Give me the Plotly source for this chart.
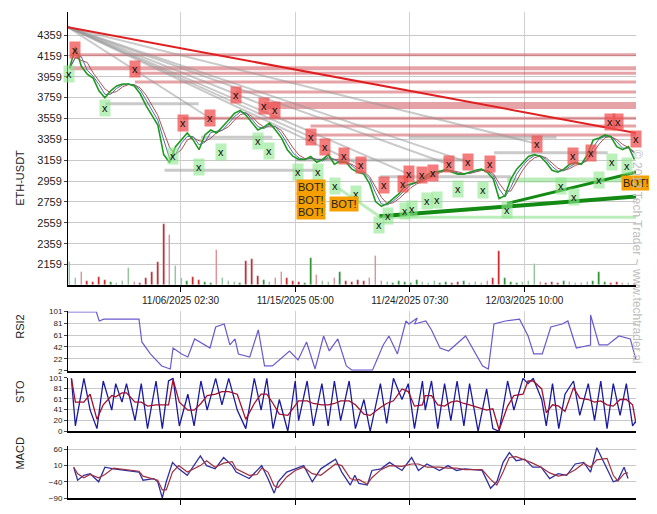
import plotly.graph_objects as go
import pandas as pd

START = pd.Timestamp("2025-10-28 03:50")
END = pd.Timestamp("2025-12-12 06:40")

price = [4040, 4246, 4059, 3983, 3946, 3824, 3758, 3824, 3871, 3890, 3890, 3871, 3796, 3683, 3589, 3495,
         3213, 3138, 3289, 3354, 3420, 3354, 3260, 3401, 3448, 3420, 3476, 3542, 3608, 3636, 3589, 3514,
         3448, 3476, 3514, 3448, 3373, 3260, 3195, 3166, 3166, 3195, 3138, 3166, 3213, 3120, 3148, 3138,
         3073, 3044, 3026, 2932, 2763, 2716, 2744, 2791, 2838, 2913, 2932, 2951, 2979, 3026, 3044, 3054,
         3073, 3044, 3026, 3026, 3044, 3063, 3073, 3044, 2979, 2791, 2819, 2979, 3073, 3138, 3195, 3213,
         3195, 3138, 3063, 3044, 3073, 3120, 3138, 3120, 3213, 3354, 3373, 3401, 3382, 3289, 3260, 3289, 3166]
volume = [220, 60, 120, 40, 30, 70, 50, 30, 20, 40, 160, 30, 20, 60, 120, 220, 580, 480, 180, 60, 40,
          70, 50, 30, 20, 330, 60, 40, 30, 20, 230, 250, 80, 50, 30, 60, 120, 60, 40, 30, 20, 260, 90,
          40, 30, 60, 120, 40, 30, 50, 40, 60, 280, 40, 30, 20, 40, 30, 20, 50, 30, 20, 40, 20, 30, 20,
          30, 40, 20, 30, 20, 40, 60, 320, 60, 30, 20, 30, 40, 200, 30, 20, 30, 20, 40, 30, 20, 20, 30,
          40, 120, 30, 20, 30, 20, 20, 20]

yticks_main = [2159, 2359, 2559, 2759, 2959, 3159, 3359, 3559, 3759, 3959, 4159, 4359]
date_ticks = ["2025-11-06 02:30", "2025-11-15 05:00", "2025-11-24 07:30", "2025-12-03 10:00"]
date_labels = ["11/06/2025 02:30", "11/15/2025 05:00", "11/24/2025 07:30", "12/03/2025 10:00"]

sell_pos = [.0125, .118, .202, .25, .295, .345, .364, .427, .452, .486, .516, .557, .589, .6, .623, .643,
            .67, .705, .743, .825, .889, .921, .955, .968, 1.0]
sell_price = [4218, 4030, 3514, 3561, 3786, 3683, 3645, 3382, 3288, 3195, 3110, 2922, 2932, 3026, 3016,
              3035, 3120, 3138, 3120, 3317, 3204, 3232, 3523, 3523, 3364]
buy_pos = [.002, .066, .184, .23, .27, .334, .354, .405, .441, .47, .507, .548, .564, .593, .605, .632,
           .65, .686, .73, .773, .868, .891, .934, .957, .984]
buy_price = [3983, 3655, 3204, 3091, 3242, 3345, 3251, 3044, 3044, 2913, 2838, 2537, 2622, 2669, 2688,
             2772, 2781, 2885, 2876, 2678, 2913, 2810, 2969, 3138, 3101]
bot_pos = [.427, .427, .427, .486, 1.0]
bot_price = [2904, 2782, 2660, 2735, 2941]

res_levels = [4171, 4040, 3993, 3908, 3814, 3683, 3561, 3486, 3401]
res_start = [.004, .004, .118, .118, .295, .345, .202, .427, .427]
res_width = [3, 4, 3, 3, 3, 7, 3, 3, 3]

fan_end_pos = [.25, .364, .427, .516, .67, .825, .705, .6]
fan_end_price = [3561, 3645, 3382, 3110, 3120, 3317, 3138, 3026]
fan_origin_price = 4434

trend_price = [4434, 3420]

rsi_pos = [0, .05, .055, .063, .125, .13, .145, .165, .18, .185, .2, .211, .223, .232, .25, .26, .275,
           .285, .294, .3, .32, .335, .346, .354, .36, .39, .405, .42, .435, .45, .46, .475, .49, .5,
           .536, .555, .565, .58, .595, .6, .615, .61, .63, .64, .655, .67, .7, .73, .74, .75, .77,
           .795, .81, .82, .835, .85, .87, .88, .895, .92, .92, .935, .95, .97, .99, 1.0]
rsi_val = [100, 100, 85, 88, 88, 50, 30, 10, 5, 40, 30, 25, 55, 50, 40, 75, 80, 45, 55, 30, 25, 70, 10,
           10, 10, 35, 20, 50, 5, 60, 35, 55, 10, 3, 3, 45, 60, 30, 85, 80, 90, 80, 85, 70, 40, 35, 60,
           10, 5, 80, 85, 88, 60, 30, 30, 75, 80, 85, 40, 45, 95, 45, 45, 60, 55, 20]

sto_pos = [0.006, .013, .028, .039, .051, .062, .077, .084, .095, .103, .118, .129, .14, .155, .166,
           .177, .185, .196, .211, .222, .234, .245, .26, .271, .283, .298, .313, .328, .34, .35, .361,
           .372, .387, .4, .406, .421, .432, .447, .458, .469, .48, .495, .506, .521, .532, .55, .561,
           .573, .588, .599, .61, .624, .629, .64, .651, .663, .674, .685, .697, .707, .722, .737, .748,
           .759, .774, .785, .801, .81, .819, .834, .842, .853, .864, .875, .89, .901, .916, .927, .938,
           .949, .96, .972, .983, .994, 1.0]
sto_val = [100, 10, 100, 40, 5, 95, 40, 90, 55, 90, 20, 90, 5, 95, 5, 95, 100, 10, 70, 10, 95, 40, 100,
           50, 100, 40, 5, 100, 40, 100, 5, 60, 0, 95, 20, 95, 10, 90, 10, 95, 20, 95, 5, 60, 0, 90, 15,
           100, 60, 90, 5, 95, 40, 95, 5, 90, 20, 95, 10, 90, 0, 80, 5, 0, 95, 40, 100, 90, 100, 60, 10,
           90, 5, 70, 95, 30, 90, 20, 95, 5, 90, 30, 90, 10, 20]

macd_pos = [.01, .017, .028, .039, .054, .065, .08, .103, .125, .132, .151, .158, .166, .173, .184, .195,
            .21, .233, .244, .259, .274, .289, .296, .319, .333, .341, .352, .363, .37, .385, .4, .415,
            .43, .445, .471, .482, .497, .505, .512, .527, .535, .551, .566, .588, .605, .617, .632, .654,
            .669, .684, .699, .729, .744, .755, .766, .777, .789, .804, .818, .833, .848, .863, .878, .893,
            .908, .92, .931, .949, .96, .968, .979, .986]
macd_val = [5, -35, -20, -15, -40, 5, 0, -5, -10, -35, -30, -40, -90, -40, 20, 0, -20, 40, 10, 0, 35, 10,
            -10, -30, -5, 10, -30, -75, -40, -10, 0, 10, -40, 0, 30, -10, -50, -20, -45, -50, -5, 0, 20,
            -5, 35, -5, 15, -5, 10, -5, 0, -5, -60, -40, 20, 50, 25, 30, 5, 5, -30, -15, -20, 15, 20, -10,
            65, 0, -40, -35, 5, -30]

span = END - START
def at(f):
    return START + f * span

t = pd.date_range(START + pd.Timedelta(hours=3), END - pd.Timedelta(hours=3), periods=len(price))
ps = pd.Series(price)
ma_fast = ps.rolling(2, min_periods=1).mean()
ma_slow = ps.rolling(3, min_periods=1).mean()

fig = go.Figure()
BASE = 1965
vcol = ["#1a8a1a" if i == 0 or price[i] >= price[i - 1] else "#cc1111" for i in range(len(price))]
fig.add_trace(go.Bar(x=t, y=volume, base=BASE, marker_color=vcol, width=3.6e6 * 3, xaxis="x", yaxis="y"))

for lv, st, w in zip(res_levels, res_start, res_width):
    fig.add_trace(go.Scatter(x=[at(st), END], y=[lv, lv], mode="lines",
                             line=dict(color="rgba(200,50,60,0.45)", width=w)))
for fp, pr in zip(fan_end_pos, fan_end_price):
    fig.add_trace(go.Scatter(x=[START, at(fp)], y=[fan_origin_price, pr], mode="lines",
                             line=dict(color="rgba(150,150,150,0.5)", width=2)))
for a, b, lv in [(.17, .44, 3063), (.066, .23, 3700), (.234, .36, 3380), (.4, .7, 3160), (.55, .78, 3000),
                 (.6, .86, 3380), (.75, .95, 3230)]:
    fig.add_trace(go.Scatter(x=[at(a), at(b)], y=[lv, lv], mode="lines",
                             line=dict(color="rgba(150,150,150,0.5)", width=3)))
for a, pa, b, pb, c, w in [(.548, 2613, 1.0, 2613, "rgba(120,220,120,0.5)", 3),
                           (.773, 2969, 1.0, 2969, "rgba(120,220,120,0.5)", 5),
                           (.548, 2622, 1.0, 2810, "#138a13", 4),
                           (.773, 2744, 1.0, 3044, "#138a13", 3),
                           (.47, 2913, .548, 2622, "rgba(120,220,120,0.5)", 3)]:
    fig.add_trace(go.Scatter(x=[at(a), at(b)], y=[pa, pb], mode="lines", line=dict(color=c, width=w)))
fig.add_trace(go.Scatter(x=[START, END], y=trend_price, mode="lines", line=dict(color="#e02020", width=2)))
fig.add_trace(go.Scatter(x=t, y=ma_slow, mode="lines", line=dict(color="#b05050", width=1)))
fig.add_trace(go.Scatter(x=t, y=ma_fast, mode="lines", line=dict(color="#5070b0", width=1)))
fig.add_trace(go.Scatter(x=t, y=price, mode="lines", line=dict(color="#1f9a1f", width=1.6)))

rx = [at(f) for f in rsi_pos]
fig.add_trace(go.Scatter(x=rx, y=rsi_val, mode="lines", line=dict(color="#6a5acd", width=1.2),
                         xaxis="x2", yaxis="y2"))
sx = [at(f) for f in sto_pos]
fig.add_trace(go.Scatter(x=sx, y=sto_val, mode="lines", line=dict(color="#1a1aa0", width=1.3),
                         xaxis="x3", yaxis="y3"))
fig.add_trace(go.Scatter(x=sx, y=pd.Series(sto_val).rolling(2, min_periods=1).mean(), mode="lines",
                         line=dict(color="#a01030", width=1.3), xaxis="x3", yaxis="y3"))
mx = [at(f) for f in macd_pos]
fig.add_trace(go.Scatter(x=mx, y=macd_val, mode="lines", line=dict(color="#3030a0", width=1.3),
                         xaxis="x4", yaxis="y4"))
fig.add_trace(go.Scatter(x=mx, y=pd.Series(macd_val).rolling(2, min_periods=1).mean(), mode="lines",
                         line=dict(color="#a03040", width=1.2), xaxis="x4", yaxis="y4"))

ann = []
for f, p in zip(buy_pos, buy_price):
    ann.append(dict(x=at(f), y=p, text="x", showarrow=False, bgcolor="rgba(140,230,140,0.6)",
                    font=dict(size=11, color="#111"), borderpad=2))
for f, p in zip(sell_pos, sell_price):
    ann.append(dict(x=at(f), y=p, text="x", showarrow=False, bgcolor="rgba(240,80,80,0.75)",
                    font=dict(size=11, color="#111"), borderpad=2))
for f, p in zip(bot_pos, bot_price):
    ann.append(dict(x=at(f), y=p, text="BOT!", showarrow=False, bgcolor="#f5a000",
                    font=dict(size=11, color="#222"), borderpad=1))
ann.append(dict(x=1.018, y=0.72, xref="paper", yref="paper", text="© 2012 Tech Trader ~ www.techtrader.ai",
                textangle=90, showarrow=False, font=dict(size=12, color="#c0c0c0")))
for name, yc in [("ETH-USDT", 0.72), ("RSI2", 0.323), ("STO", 0.192), ("MACD", 0.054)]:
    ann.append(dict(x=-0.085, y=yc, xref="paper", yref="paper", text=name, textangle=-90,
                    showarrow=False, font=dict(size=11, color="#222"), xanchor="center"))

xcommon = dict(type="date", range=[START, END], tickvals=date_ticks, showgrid=True, gridcolor="#d0d0d0",
               showline=True, linecolor="black", linewidth=2, ticks="outside", ticklen=5, tickcolor="black",
               zeroline=False)
ycommon = dict(showgrid=True, gridcolor="#c8c8c8", showline=True, linecolor="black", linewidth=1,
               ticks="outside", ticklen=3, zeroline=False, tickfont=dict(size=8, color="#222"))

fig.update_layout(
    width=649, height=506, margin=dict(l=60, r=21, t=0, b=16), showlegend=False,
    plot_bgcolor="white", paper_bgcolor="white", font=dict(family="Liberation Sans", color="#222"),
    bargap=0, annotations=ann,
    xaxis=dict(xcommon, ticktext=date_labels, tickfont=dict(size=10), anchor="y"),
    xaxis2=dict(xcommon, showticklabels=False, anchor="y2", matches="x"),
    xaxis3=dict(xcommon, showticklabels=False, anchor="y3", matches="x"),
    xaxis4=dict(xcommon, showticklabels=False, anchor="y4", matches="x"),
    yaxis=dict(ycommon, domain=[0.4388, 1], range=[1965, 4580], tickvals=yticks_main,
               tickfont=dict(size=11, color="#222"), anchor="x"),
    yaxis2=dict(ycommon, domain=[0.2618, 0.384], range=[2, 101], tickvals=[2, 22, 42, 61, 81, 101], anchor="x2"),
    yaxis3=dict(ycommon, domain=[0.1373, 0.2473], range=[0, 101], tickvals=[0, 20, 41, 61, 81, 101], anchor="x3"),
    yaxis4=dict(ycommon, domain=[0, 0.108], range=[-90, 72], tickvals=[-90, -40, 10, 60], anchor="x4"),
)
fig.write_html("out.html")
